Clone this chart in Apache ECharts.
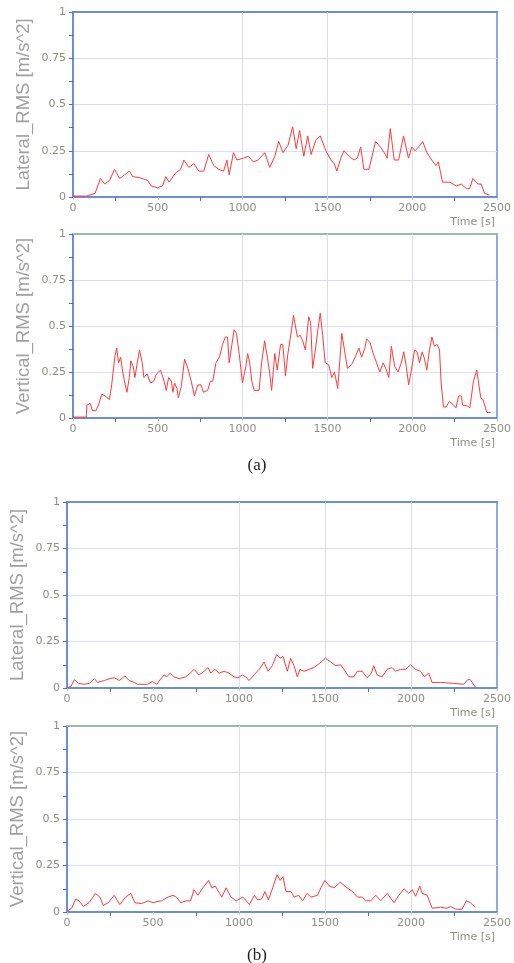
<!DOCTYPE html>
<html><head><meta charset="utf-8">
<script src="https://cdn.jsdelivr.net/npm/echarts@6/dist/echarts.min.js"></script>
<style>html,body{margin:0;padding:0;background:#fff}#c{width:514px;height:963px}</style>
</head><body><div id="c"></div>
<script>
// ---- data (time [s], RMS [m/s^2]) ----
const xLabels = [0, 500, 1000, 1500, 2000, 2500];
const xGridLines = [1000, 1500, 2000];
const yLabels = [0, 0.25, 0.5, 0.75, 1];
const yNames = ['Lateral_RMS [m/s^2]', 'Vertical_RMS [m/s^2]', 'Lateral_RMS [m/s^2]', 'Vertical_RMS [m/s^2]'];
const xName = 'Time [s]';
const captions = ['(a)', '(b)'];

const lateralA = [[0,0.005],[80,0.005],[84,0.015],[130,0.02],[138,0.03],[162,0.1],[187,0.07],[216,0.09],[245,0.15],[275,0.1],[304,0.12],[333,0.14],[352,0.11],[391,0.105],[440,0.09],[460,0.06],[498,0.05],[528,0.06],[547,0.11],[567,0.08],[605,0.13],[635,0.15],[654,0.2],[683,0.16],[713,0.18],[742,0.14],[771,0.14],[800,0.23],[830,0.17],[859,0.15],[888,0.14],[907,0.2],[921,0.12],[946,0.24],[966,0.2],[1005,0.21],[1034,0.22],[1063,0.19],[1092,0.2],[1131,0.24],[1160,0.16],[1190,0.22],[1213,0.3],[1238,0.24],[1268,0.28],[1295,0.38],[1316,0.26],[1336,0.36],[1361,0.22],[1384,0.33],[1404,0.23],[1433,0.31],[1458,0.33],[1491,0.25],[1521,0.2],[1540,0.18],[1556,0.14],[1579,0.21],[1598,0.25],[1628,0.22],[1657,0.2],[1676,0.21],[1696,0.27],[1715,0.15],[1745,0.15],[1784,0.3],[1813,0.27],[1842,0.23],[1852,0.21],[1871,0.37],[1894,0.2],[1920,0.2],[1949,0.33],[1978,0.21],[1998,0.27],[2017,0.25],[2037,0.27],[2062,0.3],[2086,0.24],[2115,0.2],[2140,0.17],[2154,0.19],[2179,0.08],[2222,0.08],[2260,0.06],[2290,0.07],[2319,0.045],[2338,0.045],[2358,0.1],[2387,0.07],[2407,0.07],[2426,0.02],[2455,0.01]];

const verticalA = [[0,0.005],[78,0.005],[82,0.07],[101,0.08],[115,0.04],[135,0.04],[150,0.07],[170,0.13],[189,0.12],[215,0.1],[228,0.18],[248,0.34],[258,0.38],[269,0.3],[281,0.33],[293,0.25],[306,0.19],[318,0.14],[332,0.22],[341,0.31],[355,0.28],[365,0.22],[379,0.3],[392,0.37],[408,0.3],[418,0.22],[437,0.24],[457,0.19],[476,0.2],[492,0.24],[517,0.26],[537,0.2],[550,0.15],[564,0.22],[580,0.2],[589,0.14],[599,0.19],[613,0.16],[621,0.11],[638,0.17],[658,0.32],[677,0.27],[697,0.2],[716,0.12],[736,0.18],[755,0.18],[769,0.14],[794,0.15],[810,0.2],[824,0.2],[843,0.3],[863,0.33],[882,0.4],[898,0.44],[911,0.44],[921,0.3],[937,0.4],[950,0.48],[964,0.46],[980,0.35],[999,0.19],[1019,0.28],[1030,0.35],[1042,0.3],[1054,0.2],[1068,0.15],[1097,0.15],[1112,0.3],[1130,0.42],[1146,0.33],[1159,0.25],[1171,0.15],[1190,0.35],[1204,0.26],[1224,0.4],[1237,0.4],[1253,0.23],[1267,0.35],[1284,0.45],[1300,0.56],[1311,0.55],[1323,0.44],[1339,0.45],[1354,0.42],[1370,0.37],[1390,0.55],[1401,0.52],[1413,0.27],[1429,0.37],[1444,0.48],[1458,0.57],[1472,0.45],[1487,0.3],[1507,0.29],[1526,0.22],[1542,0.25],[1561,0.16],[1585,0.46],[1604,0.35],[1618,0.27],[1643,0.29],[1663,0.33],[1686,0.38],[1702,0.33],[1721,0.38],[1731,0.43],[1751,0.41],[1770,0.35],[1790,0.3],[1809,0.25],[1829,0.3],[1848,0.26],[1862,0.22],[1877,0.39],[1897,0.28],[1916,0.25],[1936,0.3],[1950,0.36],[1965,0.28],[1979,0.18],[1995,0.26],[2014,0.37],[2029,0.36],[2043,0.3],[2059,0.36],[2073,0.32],[2086,0.26],[2102,0.37],[2116,0.44],[2131,0.39],[2147,0.4],[2161,0.37],[2170,0.2],[2184,0.06],[2200,0.06],[2219,0.09],[2239,0.075],[2258,0.055],[2274,0.12],[2291,0.12],[2297,0.07],[2326,0.065],[2340,0.055],[2361,0.2],[2381,0.26],[2395,0.17],[2404,0.11],[2418,0.1],[2440,0.03],[2463,0.03]];

const lateralB = [[0,0],[23,0.01],[43,0.045],[66,0.025],[100,0.02],[130,0.025],[159,0.05],[178,0.03],[217,0.04],[246,0.05],[275,0.055],[304,0.04],[337,0.065],[362,0.04],[391,0.03],[410,0.02],[468,0.02],[497,0.035],[522,0.02],[546,0.05],[565,0.07],[580,0.06],[600,0.08],[623,0.06],[652,0.05],[691,0.06],[716,0.08],[739,0.1],[768,0.07],[797,0.09],[820,0.11],[836,0.08],[859,0.1],[884,0.08],[913,0.09],[942,0.08],[971,0.06],[995,0.055],[1020,0.07],[1039,0.06],[1058,0.04],[1087,0.07],[1117,0.1],[1146,0.14],[1169,0.09],[1194,0.12],[1219,0.18],[1238,0.16],[1256,0.17],[1281,0.09],[1300,0.16],[1320,0.12],[1339,0.06],[1354,0.1],[1378,0.09],[1407,0.1],[1436,0.11],[1465,0.13],[1503,0.16],[1533,0.14],[1562,0.12],[1591,0.125],[1610,0.1],[1639,0.06],[1668,0.06],[1687,0.09],[1716,0.09],[1745,0.055],[1769,0.08],[1784,0.12],[1803,0.07],[1832,0.06],[1861,0.1],[1890,0.11],[1910,0.09],[1939,0.1],[1968,0.1],[1997,0.125],[2026,0.1],[2055,0.09],[2078,0.06],[2103,0.08],[2122,0.03],[2171,0.03],[2248,0.025],[2306,0.02],[2330,0.045],[2345,0.045],[2374,0.005]];

const verticalB = [[0,0.005],[27,0.02],[50,0.07],[70,0.06],[95,0.03],[128,0.05],[166,0.1],[191,0.08],[211,0.035],[240,0.05],[274,0.09],[307,0.04],[340,0.08],[371,0.1],[394,0.05],[433,0.045],[471,0.06],[500,0.05],[520,0.055],[549,0.06],[587,0.08],[616,0.09],[636,0.08],[661,0.05],[694,0.06],[719,0.06],[738,0.12],[761,0.09],[790,0.13],[823,0.17],[842,0.13],[862,0.14],[887,0.1],[900,0.08],[925,0.13],[954,0.08],[983,0.06],[1022,0.08],[1047,0.055],[1061,0.04],[1090,0.09],[1109,0.065],[1132,0.07],[1151,0.11],[1171,0.065],[1196,0.13],[1221,0.2],[1240,0.17],[1256,0.19],[1273,0.11],[1302,0.11],[1321,0.08],[1347,0.09],[1370,0.06],[1395,0.1],[1418,0.08],[1457,0.09],[1476,0.13],[1499,0.17],[1524,0.14],[1553,0.13],[1588,0.16],[1621,0.135],[1660,0.11],[1689,0.08],[1718,0.08],[1737,0.06],[1766,0.06],[1795,0.09],[1824,0.06],[1862,0.1],[1901,0.05],[1930,0.09],[1959,0.125],[1988,0.1],[2007,0.12],[2027,0.085],[2051,0.14],[2065,0.1],[2094,0.09],[2123,0.02],[2172,0.025],[2210,0.02],[2230,0.03],[2259,0.015],[2297,0.015],[2322,0.06],[2345,0.05],[2374,0.025]];

const seriesData = [lateralA, verticalA, lateralB, verticalB];

// ---- layout / style ----
const grids = [
  {left: 73, top: 12, width: 428, height: 185},
  {left: 73, top: 234, width: 427, height: 184},
  {left: 66, top: 502, width: 431, height: 186},
  {left: 65, top: 726, width: 432, height: 186}
];
const topColors = ['#6b8fd6', '#9fb8ae', '#6b8fd6', '#9fb8ae'];
const axisBlue = '#6b8fd6';
const labelGray = '#8e8e82';
const gridColor = '#dcdcf4';

const xMin = xLabels[0], xMax = xLabels[xLabels.length - 1];
const yMin = yLabels[0], yMax = yLabels[yLabels.length - 1];

const option = {
  animation: false,
  backgroundColor: '#ffffff',
  title: captions.map((c, i) => ({
    text: c, left: 'center', top: i === 0 ? 452 : 942,
    textStyle: {fontFamily: 'Liberation Serif', fontSize: 17, fontWeight: 'normal', color: '#222'}
  })),
  grid: grids.map(g => Object.assign({show: true, borderColor: axisBlue, borderWidth: 1.5, backgroundColor: 'transparent'}, g)),
  xAxis: [],
  yAxis: [],
  series: []
};

grids.forEach((g, i) => {
  option.xAxis.push({
    type: 'value', gridIndex: i, min: xMin, max: xMax, interval: 500,
    name: xName, nameLocation: 'end', nameGap: -2, nameMoveOverlap: false,
    nameTextStyle: {color: labelGray, fontSize: 11, fontFamily: 'DejaVu Sans', align: 'right', verticalAlign: 'top', padding: [20, 0, 0, 0]},
    axisLine: {show: true, onZero: false, lineStyle: {color: axisBlue, width: 2}},
    axisTick: {show: true, length: 3, lineStyle: {color: '#b0c8f0'}},
    minorTick: {show: true, splitNumber: 2, length: 4, lineStyle: {color: '#4f6fb0', width: 1}},
    axisLabel: {color: labelGray, fontSize: 11, fontFamily: 'DejaVu Sans', margin: 6, formatter: v => String(v)},
    splitLine: {show: false}
  });
  // top border axis
  option.xAxis.push({
    type: 'value', gridIndex: i, min: xMin, max: xMax, position: 'top',
    axisLine: {show: true, onZero: false, lineStyle: {color: topColors[i], width: 2}},
    axisTick: {show: false}, axisLabel: {show: false}, splitLine: {show: false}
  });
  option.yAxis.push({
    type: 'value', gridIndex: i, min: yMin, max: yMax, interval: 0.25,
    name: yNames[i], nameLocation: 'middle', nameGap: 40, nameMoveOverlap: false,
    nameTextStyle: {color: '#a0a0a0', fontSize: 18.5, fontFamily: 'Liberation Sans'},
    axisLine: {show: true, onZero: false, lineStyle: {color: axisBlue, width: 2}},
    axisTick: {show: true, length: 4, lineStyle: {color: '#4f6fb0'}},
    minorTick: {show: true, splitNumber: 2, length: 4, lineStyle: {color: '#4f6fb0'}},
    axisLabel: {color: labelGray, fontSize: 11, fontFamily: 'DejaVu Sans', margin: 7},
    splitLine: {show: true, lineStyle: {color: gridColor, width: 1}}
  });
  option.series.push({
    type: 'line', xAxisIndex: i * 2, yAxisIndex: i,
    data: seriesData[i], showSymbol: false, symbol: 'none',
    lineStyle: {color: '#ff3a3a', width: 1}, z: 3,
    markLine: {
      silent: true, symbol: 'none', label: {show: false}, animation: false,
      lineStyle: {color: gridColor, width: 1, type: 'solid'}, z: 1,
      data: xGridLines.map(x => ({xAxis: x}))
    }
  });
});

const chart = echarts.init(document.getElementById('c'), null, {renderer: 'canvas'});
chart.setOption(option);
</script>
</body></html>
